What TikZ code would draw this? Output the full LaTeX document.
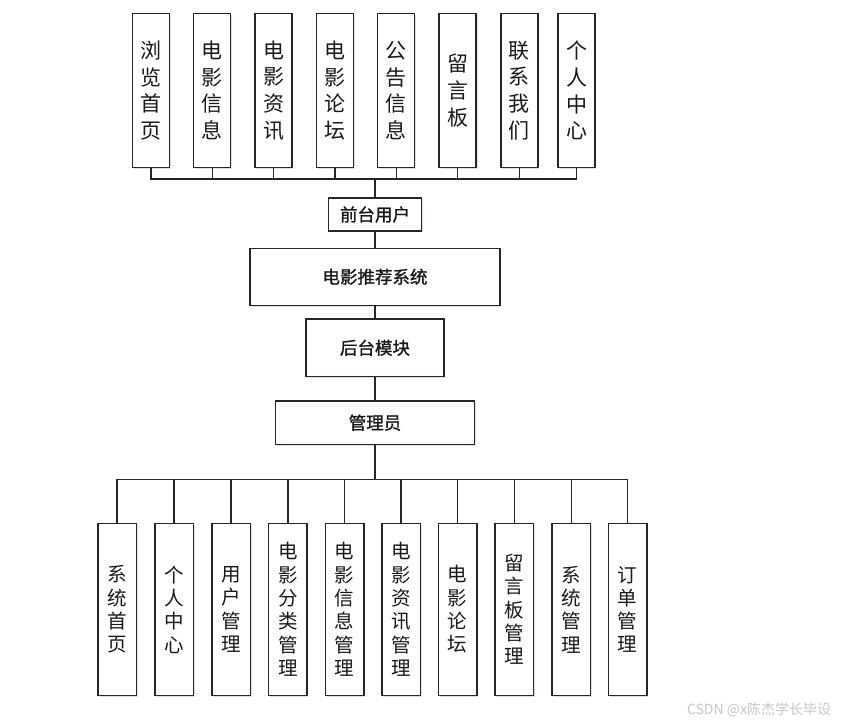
\documentclass[tikz,border=0pt]{standalone}
\usepackage{fontspec}
\setmainfont{Noto Sans CJK SC}
\newfontfamily\midfont{Noto Sans CJK SC}[FakeBold=1.2]
\usetikzlibrary{shadows}
\tikzset{
  box/.style={draw=black!85, line width=1.5pt, fill=white, inner sep=0pt, align=center, text=black!90,
    drop shadow={shadow xshift=1.3pt, shadow yshift=-1.3pt, opacity=0.18, fill=blue!40!gray}},
  topbox/.style={box, minimum width=37pt, minimum height=154.4pt, font=\fontsize{21}{26.7}\selectfont},
  botbox/.style={box, minimum width=38.5pt, minimum height=172.4pt, font=\fontsize{19.5}{23.3}\selectfont},
  midbox/.style={box, font=\midfont\fontsize{17.5}{20}\selectfont},
  link/.style={line width=1.4pt, draw=black!85},
}
\begin{document}
\begin{tikzpicture}[x=1pt,y=-1pt]
\useasboundingbox[fill=white] (0,0) rectangle (847,725);
% top row
\node[topbox] (t1) at (150.8,90.5) {浏\\览\\首\\页};
\node[topbox] (t2) at (212.2,90.5) {电\\影\\信\\息};
\node[topbox] (t3) at (273.5,90.5) {电\\影\\资\\讯};
\node[topbox] (t4) at (334.8,90.5) {电\\影\\论\\坛};
\node[topbox] (t5) at (396.2,90.5) {公\\告\\信\\息};
\node[topbox] (t6) at (457.7,90.5) {留\\言\\板};
\node[topbox] (t7) at (519.3,90.5) {联\\系\\我\\们};
\node[topbox] (t8) at (576.5,90.5) {个\\人\\中\\心};
% middle column
\node[midbox, minimum width=92.6pt, minimum height=33pt] (qt) at (375,214.5) {前台用户};
\node[midbox, minimum width=249.7pt, minimum height=57pt] (sys) at (375,276.8) {电影推荐系统};
\node[midbox, minimum width=138.3pt, minimum height=57.7pt] (ht) at (375,347.8) {后台模块};
\node[midbox, minimum width=198.6pt, minimum height=43.3pt] (gly) at (375,422.7) {管理员};
% bottom row
\node[botbox] (b1) at (117.1,609.5) {系\\统\\首\\页};
\node[botbox] (b2) at (174.1,609.5) {个\\人\\中\\心};
\node[botbox] (b3) at (231,609.5) {用\\户\\管\\理};
\node[botbox] (b4) at (287.8,609.5) {电\\影\\分\\类\\管\\理};
\node[botbox] (b5) at (344.5,609.5) {电\\影\\信\\息\\管\\理};
\node[botbox] (b6) at (401,609.5) {电\\影\\资\\讯\\管\\理};
\node[botbox] (b7) at (457.6,609.5) {电\\影\\论\\坛};
\node[botbox] (b8) at (514.3,609.5) {留\\言\\板\\管\\理};
\node[botbox] (b9) at (571.3,609.5) {系\\统\\管\\理};
\node[botbox] (b10) at (627.6,609.5) {订\\单\\管\\理};
% connectors
\coordinate (bus1) at (375,179);
\coordinate (bus2) at (375,479.5);
\foreach \i in {1,...,8} { \draw[link] (t\i.south) |- (bus1); }
\draw[link] (bus1) -- (qt.north);
\draw[link] (qt.south) -- (sys.north);
\draw[link] (sys.south) -- (ht.north);
\draw[link] (ht.south) -- (gly.north);
\draw[link] (gly.south) -- (bus2);
\foreach \i in {1,...,10} { \draw[link] (bus2) -| (b\i.north); }
% watermark
\node[text=black!22, font=\fontsize{14}{16}\selectfont, inner sep=0pt] (wm) at (759,710) {CSDN @x陈杰学长毕设};
\end{tikzpicture}
\end{document}
